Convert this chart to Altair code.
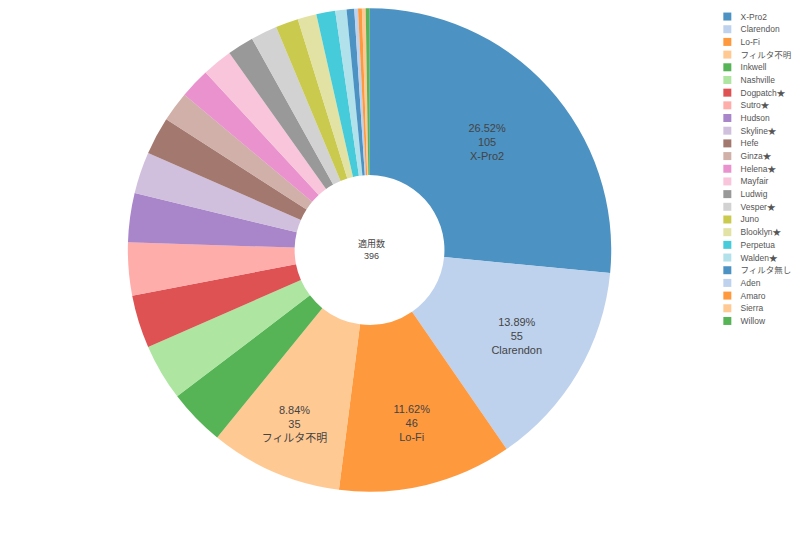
import math
import altair as alt
import pandas as pd

names = ["X-Pro2", "Clarendon", "Lo-Fi", "フィルタ不明", "Inkwell", "Nashville",
         "Dogpatch★", "Sutro★", "Hudson", "Skyline★", "Hefe", "Ginza★", "Helena★",
         "Mayfair", "Ludwig", "Vesper★", "Juno", "Blooklyn★", "Perpetua", "Walden★",
         "フィルタ無し", "Aden", "Amaro", "Sierra", "Willow"]
counts = [105, 55, 46, 35, 15, 15, 14, 14, 13, 11, 10, 8, 8, 8, 7, 7, 6, 5, 5, 3,
          2, 1, 1, 1, 1]
labeled = ["X-Pro2", "Clarendon", "Lo-Fi", "フィルタ不明"]
center_title = "適用数"

total = sum(counts)
df = pd.DataFrame({"name": names, "count": counts, "idx": list(range(len(names)))})
df["label"] = [
    (f"{c / total * 100:.2f}%\n{c}\n{n}" if n in labeled else "")
    for n, c in zip(names, counts)
]

W, H = 724, 484
FONT = "Liberation Sans, Noto Sans CJK JP, sans-serif"

arcs = alt.Chart(df).mark_arc(outerRadius=242, innerRadius=75, opacity=0.8).encode(
    theta=alt.Theta("count:Q", stack=True),
    order=alt.Order("idx:Q", sort="ascending"),
    color=alt.Color(
        "name:N",
        sort=names,
        scale=alt.Scale(scheme="category20"),
        legend=alt.Legend(
            title=None,
            orient="none",
            legendX=716,
            legendY=4,
            symbolType="square",
            symbolSize=64,
            symbolOpacity=0.8,
            symbolStrokeWidth=0,
            labelFontSize=8.5,
            labelFont=FONT,
            labelColor="#555555",
            labelOffset=9,
            rowPadding=3.7,
            padding=0,
            labelLimit=200,
        ),
    ),
)

# label radius for each labelled slice (styling of the label placement)
label_radius = {"X-Pro2": 159, "Clarendon": 171, "Lo-Fi": 179, "フィルタ不明": 191}

text_layers = []
for n in labeled:
    t = (
        alt.Chart(df)
        .transform_window(cum="sum(count)", sort=[{"field": "idx"}], frame=[None, 0])
        .transform_calculate(mid="datum.cum - datum.count / 2")
        .transform_filter(alt.datum.name == n)
        .mark_text(
            radius=label_radius[n], fontSize=11, font=FONT, color="#444444",
            lineBreak="\n", lineHeight=14, align="center", baseline="middle", dy=-14,
        )
        .encode(
            theta=alt.Theta("mid:Q", stack=None,
                            scale=alt.Scale(domain=[0, total], range=[0, 2 * math.pi])),
            text="label:N",
        )
    )
    text_layers.append(t)

center_df = pd.DataFrame({"t": [f"{center_title}\n{total}"]})
center = alt.Chart(center_df).mark_text(
    fontSize=9, font=FONT, color="#444444", lineBreak="\n", lineHeight=12,
    align="center", baseline="middle", dy=-6,
).encode(x=alt.value(W / 2 + 2), y=alt.value(H / 2), text="t:N")

chart = alt.layer(arcs, *text_layers, center).resolve_scale(
    theta="independent"
).properties(
    width=W, height=H, padding=0
).configure_view(stroke=None)

chart.save("out.html", embed_options={"renderer": "svg", "actions": False})
